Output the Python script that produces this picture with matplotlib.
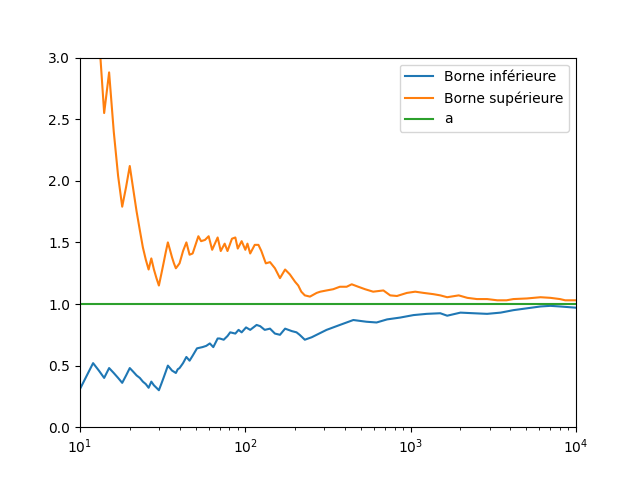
import matplotlib
matplotlib.use('Agg')
import matplotlib.pyplot as plt

# valeurs (n, borne)
n_inf = [10, 11, 12, 13, 14, 15, 16, 17, 18, 19, 20, 21, 22, 23, 24, 25, 26, 27, 28, 29, 30,
         31, 32, 33, 34, 35, 36, 37, 38, 39, 40, 41, 42, 44, 46, 48, 51, 55, 58, 61, 64, 68,
         70, 74, 78, 81, 87, 91, 95, 101, 107, 117, 123, 131, 141, 151, 162, 174, 191, 204,
         213, 229, 240, 252, 270, 310, 373, 450, 540, 622, 720, 865, 1040, 1250, 1510, 1663,
         2000, 2400, 2900, 3500, 4180, 5050, 6100, 7000, 8000, 10000]
borne_inf = [0.31, 0.42, 0.52, 0.46, 0.40, 0.48, 0.44, 0.40, 0.36, 0.42, 0.48, 0.45, 0.42,
             0.40, 0.37, 0.35, 0.32, 0.37, 0.34, 0.32, 0.30, 0.35, 0.40, 0.45, 0.50, 0.48,
             0.46, 0.45, 0.44, 0.47, 0.48, 0.50, 0.52, 0.57, 0.54, 0.58, 0.64, 0.65, 0.66,
             0.68, 0.65, 0.72, 0.72, 0.71, 0.74, 0.77, 0.76, 0.79, 0.77, 0.81, 0.79, 0.83,
             0.82, 0.79, 0.80, 0.76, 0.75, 0.80, 0.78, 0.77, 0.75, 0.71, 0.72, 0.73, 0.75,
             0.79, 0.83, 0.87, 0.856, 0.85, 0.875, 0.89, 0.91, 0.92, 0.925, 0.905, 0.93,
             0.925, 0.92, 0.93, 0.95, 0.965, 0.98, 0.985, 0.98, 0.97]

n_sup = [10, 11, 12, 13, 14, 15, 16, 17, 18, 19, 20, 21, 22, 23, 24, 25, 26, 27, 28, 29, 30,
         31, 32, 33, 34, 35, 36, 37, 38, 39, 40, 41, 42, 44, 46, 48, 52, 54, 57, 60, 63, 68,
         71, 75, 78, 83, 87, 90, 95, 100, 103, 107, 114, 120, 125, 133, 141, 151, 162, 174,
         186, 200, 209, 218, 229, 246, 270, 284, 310, 340, 373, 410, 440, 482, 530, 593,
         684, 752, 826, 949, 1065, 1198, 1370, 1511, 1663, 1953, 2200, 2515, 2900, 3340,
         3800, 4180, 5050, 6100, 7000, 8000, 8600, 10000]
borne_sup = [3.3, 3.7, 4.0, 3.19, 2.55, 2.88, 2.40, 2.04, 1.79, 1.95, 2.12, 1.93, 1.75,
             1.60, 1.46, 1.36, 1.28, 1.37, 1.28, 1.21, 1.15, 1.24, 1.33, 1.42, 1.50, 1.44,
             1.38, 1.33, 1.29, 1.31, 1.33, 1.38, 1.43, 1.50, 1.40, 1.41, 1.55, 1.51, 1.52,
             1.55, 1.44, 1.54, 1.43, 1.49, 1.43, 1.53, 1.54, 1.45, 1.51, 1.44, 1.49, 1.41,
             1.48, 1.48, 1.43, 1.33, 1.34, 1.29, 1.21, 1.28, 1.24, 1.18, 1.15, 1.10, 1.07,
             1.06, 1.09, 1.10, 1.11, 1.12, 1.14, 1.14, 1.16, 1.14, 1.12, 1.10, 1.11, 1.07,
             1.065, 1.09, 1.10, 1.09, 1.08, 1.07, 1.055, 1.07, 1.05, 1.04, 1.04, 1.03, 1.03,
             1.04, 1.045, 1.055, 1.05, 1.04, 1.03, 1.03]

a = 1.0
n_a = [10, 10000]

fig, ax = plt.subplots(figsize=(6.4, 4.8), dpi=100)
ax.plot(n_inf, borne_inf, label='Borne inférieure')
ax.plot(n_sup, borne_sup, label='Borne supérieure')
ax.plot(n_a, [a, a], label='a')
ax.set_xscale('log')
ax.set_xlim(10, 10000)
ax.set_ylim(0, 3)
ax.legend(loc='upper right')

plt.savefig('out.png', dpi=100)
